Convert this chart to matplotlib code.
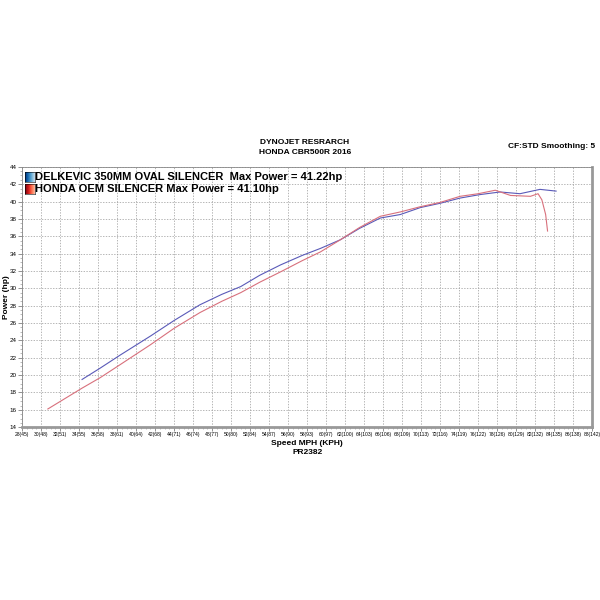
# Dyno chart: Delkevic vs Honda OEM silencer, power vs speed
import matplotlib.pyplot as plt
import numpy as np

plt.rcParams['font.family'] = ['Liberation Sans', 'DejaVu Sans']

# Speed ticks (mph) and their kph labels
mph_ticks = [28, 30, 32, 34, 36, 38, 40, 42, 44, 46, 48, 50, 52, 54, 56, 58,
             60, 62, 64, 66, 68, 70, 72, 74, 76, 78, 80, 82, 84, 86, 88]
kph_ticks = [45, 48, 51, 55, 58, 61, 64, 68, 71, 74, 77, 80, 84, 87, 90, 93,
             97, 100, 103, 106, 109, 113, 116, 119, 122, 126, 129, 132, 135, 138, 142]
hp_ticks = [14, 16, 18, 20, 22, 24, 26, 28, 30, 32, 34, 36, 38, 40, 42, 44]

# Delkevic 350mm oval silencer run
delk_mph = [34.3, 36.2, 38.3, 41.5, 44.0, 46.7, 49.0, 51.0, 53.0, 55.2, 57.5,
            59.4, 61.5, 63.5, 65.7, 67.8, 69.9, 72.0, 74.1, 76.2, 78.3, 80.4,
            82.5, 84.2]
delk_hp = [19.5, 20.8, 22.3, 24.5, 26.3, 28.1, 29.3, 30.2, 31.5, 32.7, 33.8,
           34.6, 35.6, 36.9, 38.1, 38.5, 39.3, 39.8, 40.4, 40.8, 41.1, 40.9,
           41.4, 41.2]

# Honda OEM silencer run
oem_mph = [30.7, 32.2, 34.3, 36.2, 38.3, 41.5, 44.0, 46.7, 49.0, 51.0, 53.0,
           55.2, 57.5, 59.4, 61.5, 63.5, 65.7, 67.8, 69.9, 72.0, 74.1, 76.0,
           77.8, 79.4, 81.5, 82.3, 82.7, 83.1, 83.3]
oem_hp = [16.1, 17.1, 18.5, 19.7, 21.2, 23.5, 25.4, 27.2, 28.5, 29.5, 30.7,
          31.9, 33.2, 34.2, 35.6, 37.0, 38.3, 38.8, 39.4, 39.9, 40.6, 40.9,
          41.3, 40.7, 40.6, 40.9, 40.2, 38.5, 36.6]

fig = plt.figure(figsize=(6, 6), dpi=100)
ax = fig.add_axes([0.037, 0.288, 0.95, 0.434])

ax.plot(delk_mph, delk_hp, color='#5a5ab8', linewidth=0.8)
ax.plot(oem_mph, oem_hp, color='#d8707c', linewidth=0.8)

ax.set_xlim(28, 88)
ax.set_ylim(14, 44)
ax.set_xticks(mph_ticks)
ax.set_xticklabels([f"{m}({k})" for m, k in zip(mph_ticks, kph_ticks)], fontsize=3.6)
ax.set_yticks(hp_ticks)
ax.set_yticklabels([str(v) for v in hp_ticks], fontsize=4.5)
ax.set_xticks(np.arange(28, 88.1, 0.5), minor=True)
ax.set_yticks(np.arange(14, 44.1, 0.5), minor=True)
ax.tick_params(axis='both', which='major', length=3, width=0.5, color='#666666', pad=0.8)
ax.tick_params(axis='both', which='minor', length=1.5, width=0.4, color='#888888')
ax.grid(True, which='major', linestyle=(0, (2, 2)), color='#999999', linewidth=0.5)

for side in ['left', 'top']:
    ax.spines[side].set_color('#888888')
    ax.spines[side].set_linewidth(0.6)
for side in ['right', 'bottom']:
    ax.spines[side].set_color('#999999')
    ax.spines[side].set_linewidth(2.0)

ax.set_xlabel('Speed MPH (KPH)\nPR2382', fontsize=6, fontweight='bold', labelpad=2, linespacing=1.3)
ax.set_ylabel('Power (hp)', fontsize=6, fontweight='bold')
ax.yaxis.set_label_coords(-0.022, 0.5)

# Titles
fig.text(0.508, 0.763, 'DYNOJET RESRARCH', ha='center', va='center', fontsize=6, fontweight='bold')
fig.text(0.508, 0.745, 'HONDA CBR500R 2016', ha='center', va='center', fontsize=6, fontweight='bold')
fig.text(0.992, 0.755, 'CF:STD Smoothing: 5', ha='right', va='center', fontsize=6, fontweight='bold')

# Legend entries with gradient swatches
legend_labels = ['DELKEVIC 350MM OVAL SILENCER  Max Power = 41.22hp',
                 'HONDA OEM SILENCER Max Power = 41.10hp']
legend_cmaps = ['Blues_r', 'Reds_r']
legend_y = [0.705, 0.685]
grad = np.linspace(0.0, 0.75, 50).reshape(1, -1)
for label, cmap, y in zip(legend_labels, legend_cmaps, legend_y):
    sw = fig.add_axes([0.042, y - 0.0085, 0.016, 0.017])
    sw.imshow(grad, aspect='auto', cmap=cmap, vmin=0, vmax=1)
    sw.set_xticks([])
    sw.set_yticks([])
    for s in sw.spines.values():
        s.set_linewidth(0.4)
    fig.text(0.059, y, label, ha='left', va='center', fontsize=8.0, fontweight='bold')

fig.savefig('out.png', dpi=100)
